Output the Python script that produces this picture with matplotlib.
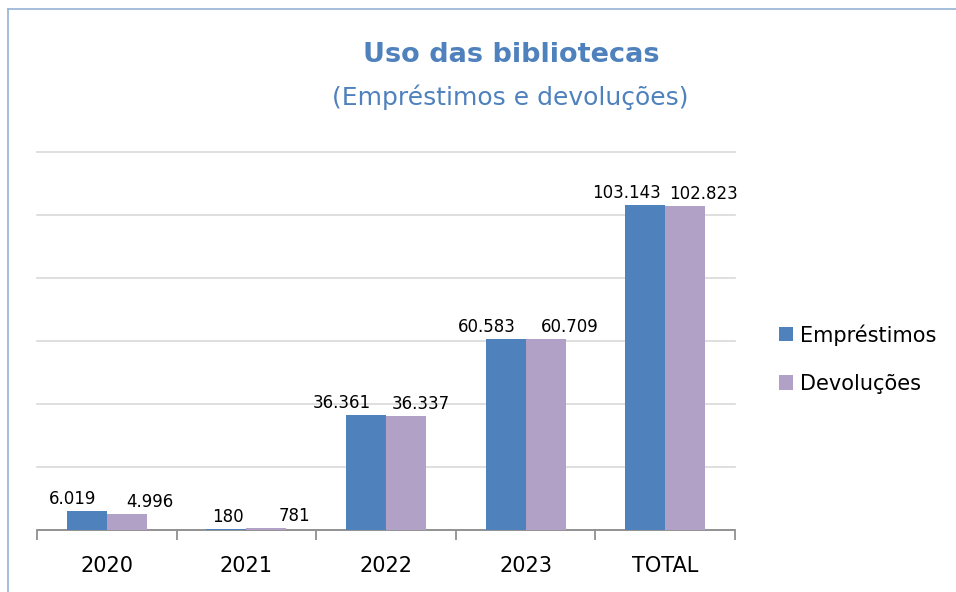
import numpy as np
import matplotlib
matplotlib.use('Agg')
from matplotlib import pyplot as plt
from matplotlib.lines import Line2D

categorias = ['2020', '2021', '2022', '2023', 'TOTAL']
emprestimos = [6019, 180, 36361, 60583, 103143]
devolucoes = [4996, 781, 36337, 60709, 102823]
rotulos_emp = ['6.019', '180', '36.361', '60.583', '103.143']
rotulos_dev = ['4.996', '781', '36.337', '60.709', '102.823']

# deslocamento horizontal dos rótulos (pixels), como o Excel arruma
desl_emp = [-14, 2, -24, -19, -19]
desl_dev = [23, 28, 15, 24, 18]

azul = '#4F81BD'
lilas = '#B2A1C7'

fig = plt.figure(figsize=(9.56, 5.92), dpi=100)
ax = fig.add_axes([37/956, 1 - 530/592, 698/956, 378/592])

x = np.arange(len(categorias))
w = 0.287
b1 = ax.bar(x - w/2, emprestimos, w, color=azul, label='Empréstimos', zorder=3)
b2 = ax.bar(x + w/2, devolucoes, w, color=lilas, label='Devoluções', zorder=3)

for i in range(len(categorias)):
    ax.annotate(rotulos_emp[i], (x[i] - w/2, emprestimos[i]), xytext=(desl_emp[i], 3),
                textcoords='offset pixels', ha='center', va='bottom', fontsize=12)
    ax.annotate(rotulos_dev[i], (x[i] + w/2, devolucoes[i]), xytext=(desl_dev[i], 3),
                textcoords='offset pixels', ha='center', va='bottom', fontsize=12)

ax.set_xlim(-0.5, 4.5)
ax.set_ylim(0, 120000)
ax.set_yticks(np.arange(0, 120001, 20000))
ax.yaxis.grid(True, color='#D9D9D9', linewidth=1.2, zorder=0)
for gl in ax.get_ygridlines():
    gl.set_clip_on(False)
ax.tick_params(axis='y', left=False, labelleft=False)
for s in ['top', 'right', 'left']:
    ax.spines[s].set_visible(False)
ax.spines['bottom'].set_color('#868686')
ax.spines['bottom'].set_linewidth(1.2)

ax.set_xticks(x)
ax.set_xticklabels(categorias, fontsize=15)
ax.set_xticks(np.arange(-0.5, 5, 1), minor=True)
ax.tick_params(axis='x', which='major', length=0, pad=19)
ax.tick_params(axis='x', which='minor', length=7, color='#868686', width=1.2)

fig.text(511/956, 1 - 55/592, 'Uso das bibliotecas', ha='center', va='center',
         fontsize=19.5, fontweight='bold', color=azul)
fig.text(510/956, 1 - 97/592, '(Empréstimos e devoluções)', ha='center', va='center',
         fontsize=18, color=azul)

fig.legend(handles=[b1, b2], loc='center left', bbox_to_anchor=(760/956, 1 - 359/592),
           frameon=False, fontsize=15, handlelength=0.67, handleheight=0.67,
           handletextpad=0.35, labelspacing=1.35)

# moldura do gráfico
fig.add_artist(Line2D([8/956, 8/956], [0, 1 - 9/592], color='#95B3D7', lw=1.2))
fig.add_artist(Line2D([8/956, 1], [1 - 9/592, 1 - 9/592], color='#95B3D7', lw=1.2))

fig.savefig('out.png', dpi=100)
